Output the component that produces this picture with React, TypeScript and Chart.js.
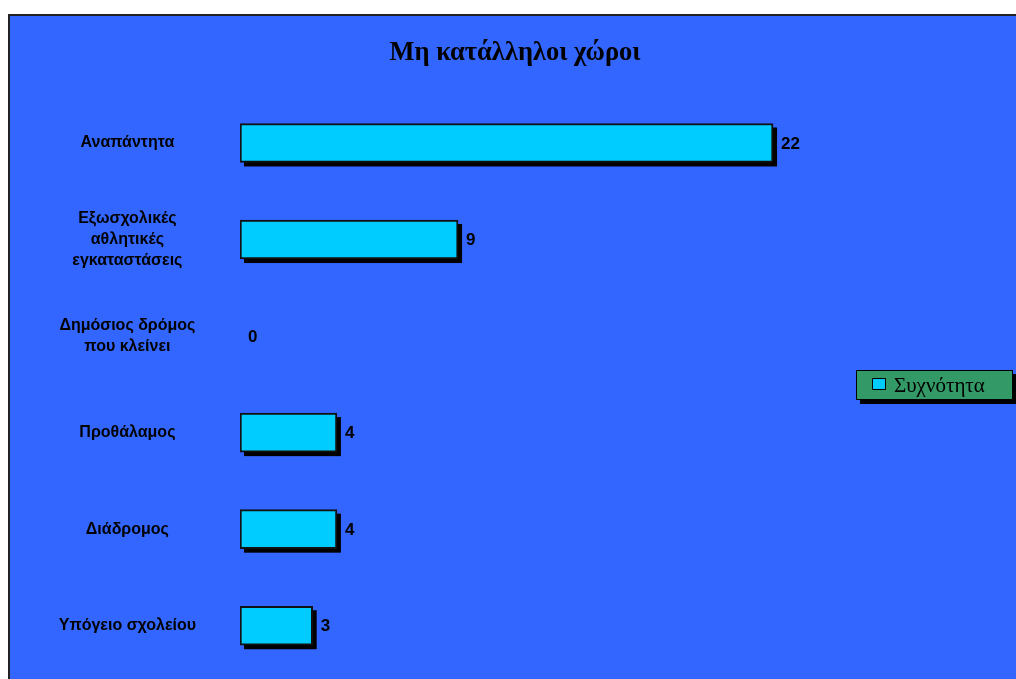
import React, { useEffect, useRef } from "react";
import { Chart, registerables } from "chart.js";

Chart.register(...registerables);

const categories: (string | string[])[] = [
  "Αναπάντητα",
  ["Εξωσχολικές", "αθλητικές", "εγκαταστάσεις"],
  ["Δημόσιος δρόμος", "που κλείνει"],
  "Προθάλαμος",
  "Διάδρομος",
  "Υπόγειο σχολείου",
];
const frequency: number[] = [22, 9, 0, 4, 4, 3];
const seriesLabel = "Συχνότητα";
const chartTitle = "Μη κατάλληλοι χώροι";

const BG = "#3366FF";
const BAR = "#00CCFF";
const LEGEND_BG = "#339966";

const shadowPlugin = {
  id: "barShadow",
  beforeDatasetsDraw(chart: any) {
    const ctx = chart.ctx;
    const meta = chart.getDatasetMeta(0);
    ctx.save();
    ctx.fillStyle = "#000";
    meta.data.forEach((el: any) => {
      const { x, y, base, height } = el.getProps(["x", "y", "base", "height"], true);
      const w = x - base;
      if (w > 0) ctx.fillRect(base + 4, y - height / 2 + 4, w, height);
    });
    ctx.restore();
  },
  afterDatasetsDraw(chart: any) {
    const ctx = chart.ctx;
    const meta = chart.getDatasetMeta(0);
    const data = chart.data.datasets[0].data;
    ctx.save();
    ctx.fillStyle = "#000";
    ctx.font = "bold 17px 'Liberation Sans', Arial, sans-serif";
    ctx.textAlign = "left";
    ctx.textBaseline = "middle";
    meta.data.forEach((el: any, i: number) => {
      const { x, y } = el.getProps(["x", "y"], true);
      ctx.fillText(String(data[i]), x + 8, y + 1);
    });
    ctx.restore();
  },
};

const titlePlugin = {
  id: "centerTitle",
  afterDraw(chart: any) {
    const ctx = chart.ctx;
    ctx.save();
    ctx.fillStyle = "#000";
    ctx.font = "bold 26.5px 'Liberation Serif', 'Times New Roman', serif";
    ctx.textAlign = "center";
    ctx.textBaseline = "middle";
    ctx.fillText(chartTitle, 505, 37);
    ctx.restore();
  },
};

const legendPlugin = {
  id: "boxLegend",
  afterDraw(chart: any) {
    const ctx = chart.ctx;
    const x = 846, y = 354, w = 157, h = 30;
    ctx.save();
    ctx.fillStyle = "#000";
    ctx.fillRect(x + 4, y + 4, w, h);
    ctx.fillStyle = LEGEND_BG;
    ctx.fillRect(x, y, w, h);
    ctx.strokeStyle = "#000";
    ctx.lineWidth = 1;
    ctx.strokeRect(x + 0.5, y + 0.5, w - 1, h - 1);
    ctx.fillStyle = BAR;
    ctx.fillRect(x + 16, y + 8, 14, 12);
    ctx.strokeRect(x + 16.5, y + 8.5, 13, 11);
    ctx.fillStyle = "#000";
    ctx.font = "21px 'Liberation Serif', 'Times New Roman', serif";
    ctx.textBaseline = "middle";
    ctx.textAlign = "left";
    ctx.fillText(chart.data.datasets[0].label, x + 38, y + h / 2 + 1);
    ctx.restore();
  },
};

export default function App() {
  const ref = useRef<HTMLCanvasElement | null>(null);
  useEffect(() => {
    if (!ref.current) return;
    const chart = new Chart(ref.current, {
      type: "bar",
      data: {
        labels: categories,
        datasets: [
          {
            label: seriesLabel,
            data: frequency,
            backgroundColor: BAR,
            borderColor: "#111",
            borderWidth: 2,
            borderSkipped: false,
            barThickness: 39,
          },
        ],
      },
      options: {
        indexAxis: "y",
        animation: false,
        responsive: false,
        layout: { padding: { left: 0, right: 194.5, top: 78.7, bottom: 5 } },
        plugins: {
          legend: { display: false },
          tooltip: { enabled: false },
          title: { display: false },
        },
        scales: {
          x: { display: false, min: 0, max: 24 },
          y: {
            grid: { display: false },
            border: { display: false },
            afterFit(scale: any) {
              scale.width = 230;
              scale.paddingTop = 0;
              scale.paddingBottom = 0;
            },
            ticks: {
              color: "#000",
              crossAlign: "center",
              padding: 36,
              font: { family: "'Liberation Sans', Arial, sans-serif", size: 16, weight: "bold", lineHeight: 1.33 },
            },
          },
        },
      },
      plugins: [shadowPlugin, titlePlugin, legendPlugin],
    });
    return () => chart.destroy();
  }, []);

  return (
    <div style={{ position: "fixed", inset: 0, overflow: "hidden", background: "#fff" }}>
      <div
        style={{
          position: "absolute",
          left: 8,
          top: 14,
          width: 1040,
          height: 700,
          background: BG,
          border: "2px solid #222",
          boxSizing: "border-box",
        }}
      >
        <canvas ref={ref} width={1006} height={663} style={{ display: "block" }} />
      </div>
    </div>
  );
}
